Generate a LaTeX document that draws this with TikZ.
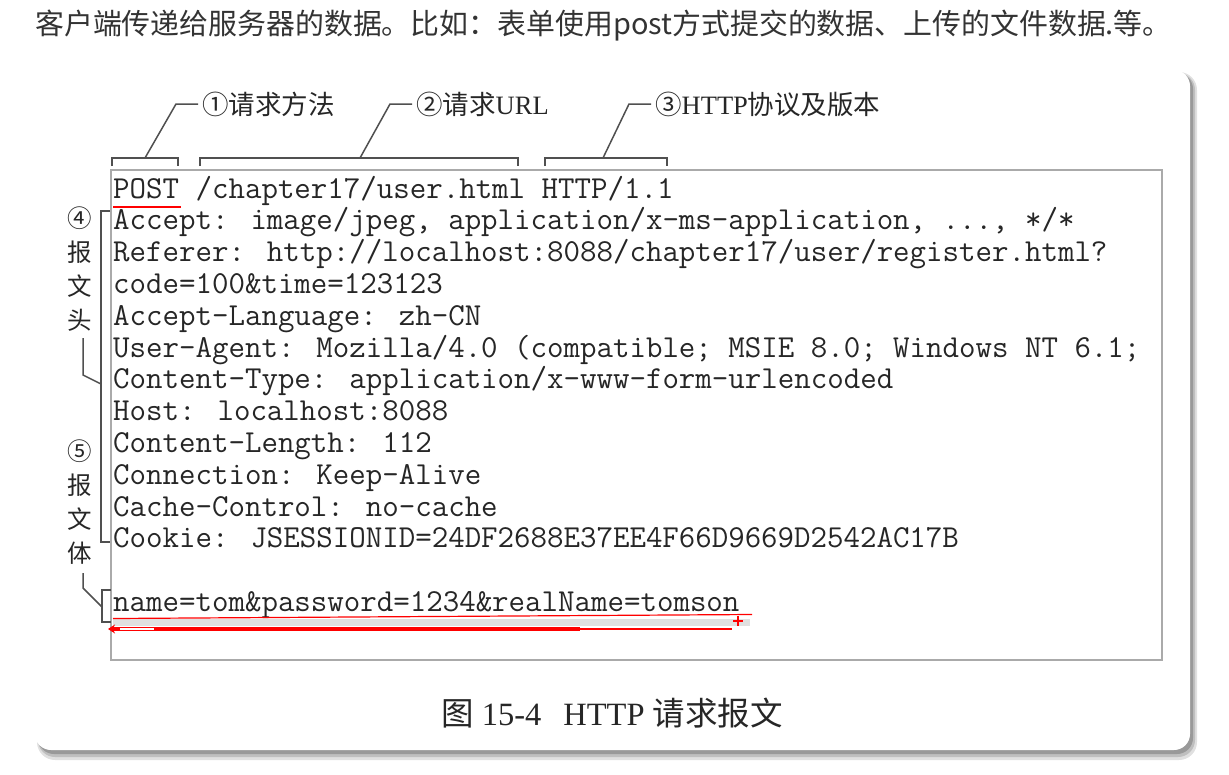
\documentclass[tikz,border=0pt]{standalone}
\usepackage{fontspec}
\setmainfont{Liberation Serif}
\newfontfamily\cjk{Noto Sans CJK SC}
\usetikzlibrary{arrows.meta,positioning,calc}
\definecolor{brk}{RGB}{80,80,80}
\definecolor{txt}{RGB}{38,38,38}
\definecolor{boxline}{RGB}{170,170,170}
\newcommand{\codefont}{\fontsize{32}{33}\selectfont\ttfamily}
\newcommand{\labfont}{\fontsize{26.5}{30}\selectfont}

\begin{document}
\begin{tikzpicture}[x=1pt,y=-1pt,
  codeline/.style={anchor=base west,inner sep=0pt,font=\codefont,text=txt},
  lab/.style={anchor=west,inner sep=4pt,font=\labfont,text=txt},
  vlab/.style={align=center,inner sep=0pt,font=\fontsize{24.5}{34}\selectfont\cjk,text=txt},
  brace/.style={draw=brk,line width=1.5pt},
  redline/.style={draw=red,line width=2pt}]
  \useasboundingbox (0,0) rectangle (1229,774);

  % sentence above the figure
  \node[anchor=west,inner sep=0pt,text=black!80,font=\fontsize{28.9}{31}\selectfont\cjk] (intro) at (35,26)
    {客户端传递给服务器的数据。比如：表单使用post方式提交的数据、上传的文件数据.等。};

  % card with soft shadow
  \fill[black!12,rounded corners=18] (37,72) rectangle (1197,760);
  \fill[black!25,rounded corners=17] (38,73) rectangle (1195,757);
  \fill[black!40,rounded corners=16] (38,73) rectangle (1193,754);
  \fill[white,rounded corners=16] (35,70) rectangle (1190,750);
  \draw[boxline,line width=1.2pt] (111,170) rectangle (1162,660);

  % request lines
  \node[codeline] (l0) at (113,198) {POST /chapter17/user.html HTTP/1.1};
  \node[codeline] (l1) at (113,229.8) {Accept: image/jpeg, application/x-ms-application, ..., */*};
  \node[codeline] (l2) at (113,261.6) {Referer: http://localhost:8088/chapter17/user/register.html?};
  \node[codeline] (l3) at (113,293.4) {code=100\&time=123123};
  \node[codeline] (l4) at (113,325.2) {Accept-Language: zh-CN};
  \node[codeline] (l5) at (113,357) {User-Agent: Mozilla/4.0 (compatible; MSIE 8.0; Windows NT 6.1;};
  \node[codeline] (l6) at (113,388.8) {Content-Type: application/x-www-form-urlencoded};
  \node[codeline] (l7) at (113,420.6) {Host: localhost:8088};
  \node[codeline] (l8) at (113,452.4) {Content-Length: 112};
  \node[codeline] (l9) at (113,484.2) {Connection: Keep-Alive};
  \node[codeline] (l10) at (113,516) {Cache-Control: no-cache};
  \node[codeline] (l11) at (113,547.8) {Cookie: JSESSIONID=24DF2688E37EE4F66D9669D2542AC17B};
  \node[codeline] (l13) at (113,611.4) {name=tom\&password=1234\&realName=tomson};

  % top labels and brackets
  \node[lab] (t1) at (198,104) {{\cjk ①请求方法}};
  \node[lab] (t2) at (412,104) {{\cjk ②请求}URL};
  \node[lab] (t3) at (651,104) {{\cjk ③}HTTP{\cjk 协议及版本}};
  \coordinate (m1) at (145,158);
  \coordinate (m2) at (360,158);
  \coordinate (m3) at (603,158);
  \draw[brace] (112,166) |- (178,158) -- (178,166);
  \draw[brace] (200,166) |- (518,158) -- (518,166);
  \draw[brace] (545,166) |- (667,158) -- (667,166);
  \draw[brace] (m1) -- ($(t1.west)+(-22,0)$) -- (t1.west);
  \draw[brace] (m2) -- ($(t2.west)+(-22,0)$) -- (t2.west);
  \draw[brace] (m3) -- ($(t3.west)+(-22,0)$) -- (t3.west);

  % left labels and brackets
  \node[vlab] (hd) at (80,269) {④\\报\\文\\头};
  \node[vlab] (bd) at (80,502) {⑤\\报\\文\\体};
  \coordinate (hb) at (101,384);
  \coordinate (bb) at (102,607);
  \draw[brace] (110,211) -| (101,542) -- (110,542);
  \draw[brace] (111,590) -| (102,622) -- (111,622);
  \draw[brace] (83,338) -- (83,375) -- (hb);
  \draw[brace] (83,573) -- (83,588) -- (bb);

  % red marks
  \draw[redline] (113,207) -- (181,207);
  \fill[black!12] (113,619) rectangle (750,626);
  \draw[red,line width=1.2pt] (113,618.5) -- (752,614.5);
  \draw[red,line width=4pt,{Stealth[length=7pt,width=9pt]}-] (108,629) -- (580,629);
  \draw[white,line width=1.2pt] (120,629) -- (154,629);
  \draw[red,line width=2.5pt] (580,629) -- (732,629);
  \draw[red,line width=1.2pt] (733,621) -- (743,621) (738,616) -- (738,626);

  % caption
  \node[font=\fontsize{32.5}{36}\selectfont,text=txt] (cap) at (612,713)
    {{\cjk 图} 15-4\hspace{22pt}HTTP {\cjk 请求报文}};
\end{tikzpicture}
\end{document}
